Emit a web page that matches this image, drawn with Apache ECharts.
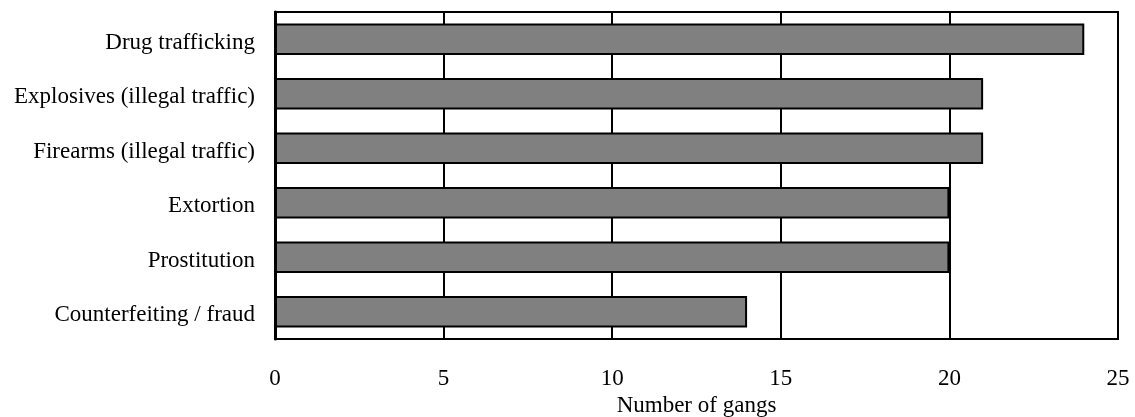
<!DOCTYPE html>
<html><head><meta charset="utf-8">
<script src="https://cdn.jsdelivr.net/npm/echarts@6/dist/echarts.min.js"></script>
<style>html,body{margin:0;padding:0;background:#fff}#c{width:1135px;height:417px}</style>
</head><body><div id="c"></div>
<script>
const categories = ["Counterfeiting / fraud","Prostitution","Extortion","Firearms (illegal traffic)","Explosives (illegal traffic)","Drug trafficking"];
const values = [14,20,20,21,21,24];
const xTicks = [0,5,10,15,20,25];
const xTitle = "Number of gangs";
const font = "'Liberation Serif','Times New Roman',serif";
const chart = echarts.init(document.getElementById('c'));
chart.setOption({
  animation:false,
  backgroundColor:'#fff',
  grid:{left:275,right:17,top:12,bottom:78,outerBoundsMode:'none',containLabel:false,show:true,borderColor:'#000',borderWidth:2,backgroundColor:'transparent'},
  xAxis:{type:'value',min:xTicks[0],max:xTicks[xTicks.length-1],interval:5,
    axisLine:{show:true,lineStyle:{color:'#000',width:2}},axisTick:{show:false},
    splitLine:{show:true,lineStyle:{color:'#000',width:2}},
    axisLabel:{color:'#000',fontFamily:font,fontSize:23,margin:28},
    name:xTitle,nameLocation:'middle',nameGap:54,nameTextStyle:{color:'#000',fontFamily:font,fontSize:23}},
  yAxis:{type:'category',data:categories,
    axisLine:{show:true,lineStyle:{color:'#000',width:3}},axisTick:{show:false},
    axisLabel:{color:'#000',fontFamily:font,fontSize:23,margin:20,
      formatter:function(v){return '{a|'+v+'}';},
      rich:{a:{color:'#000',fontFamily:font,fontSize:23,padding:[7,0,0,0]}}}},
  series:[{type:'bar',data:values,barWidth:'58%',
    itemStyle:{color:'#808080',borderColor:'#000',borderWidth:2}}]
});
</script></body></html>
